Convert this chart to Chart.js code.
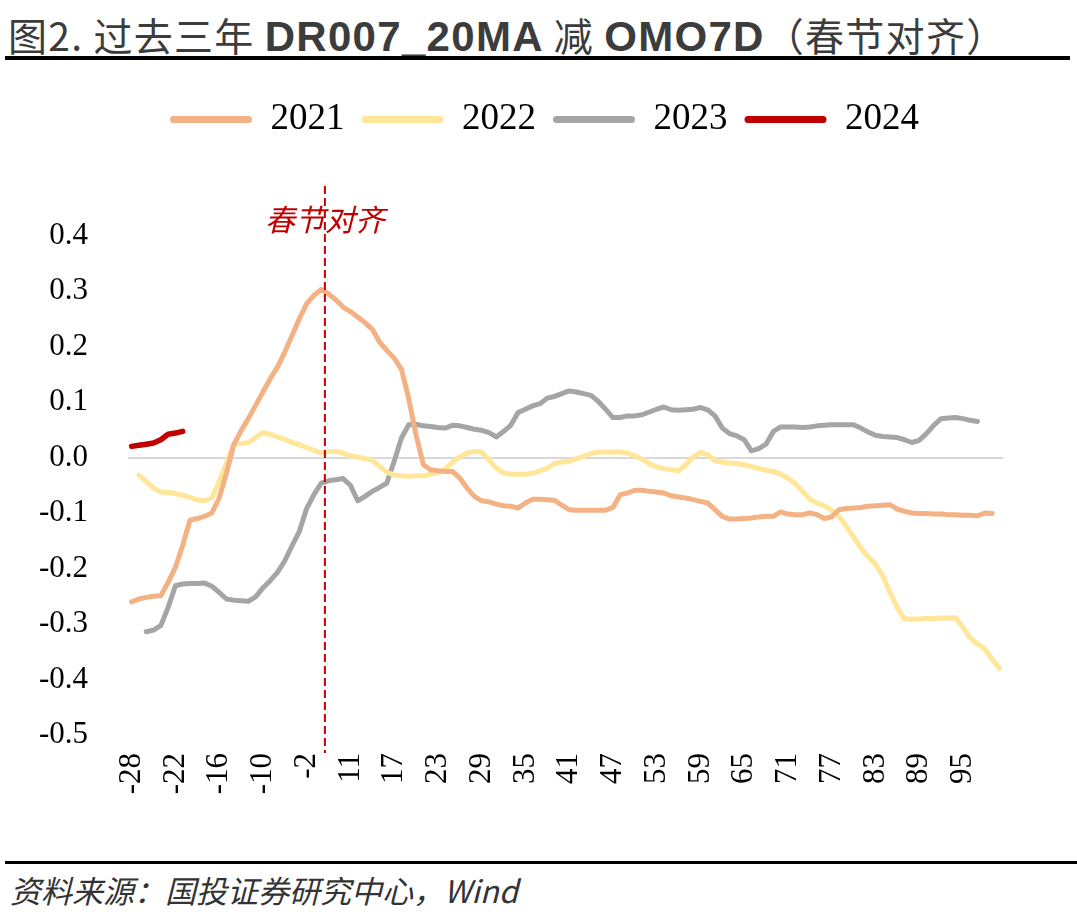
<!DOCTYPE html>
<html>
<head>
<meta charset="utf-8">
<script src="https://cdn.jsdelivr.net/npm/chart.js@4.4.1/dist/chart.umd.min.js"></script>
<style>
  body { margin: 0; background: #fff; }
  #page { position: relative; width: 1077px; height: 914px; overflow: hidden; background: #fff; }
  #title { position: absolute; left: 8px; top: 6px; font-size: 39px; color: #3c3c3c; white-space: nowrap;
           letter-spacing: 1.3px; font-family: "Noto Sans CJK SC", sans-serif; }
  #title b { font-family: "Liberation Sans", Arial, sans-serif; font-weight: 700; font-size: 42px; }
  .rule { position: absolute; background: #000; }
  #box { position: absolute; left: 0; top: 62px; width: 1077px; height: 800px; }
  #source { position: absolute; left: 10px; top: 867px; font-size: 31px; color: #333; font-style: italic;
            font-family: "Noto Sans CJK SC", sans-serif; white-space: nowrap; }
</style>
</head>
<body>
<div id="page">
  <div id="title">图2. 过去三年 <b>DR007_20MA</b> 减 <b>OMO7D</b>（春节对齐）</div>
  <div class="rule" style="left:5px;top:56px;width:1065px;height:4px;"></div>
  <div id="box"><canvas id="myChart"></canvas></div>
  <div class="rule" style="left:5px;top:861px;width:1072px;height:3px;"></div>
  <div id="source">资料来源：国投证券研究中心，Wind</div>
</div>
<script>
// days relative to Spring Festival (holiday days have no data)
const days = [-28,-27,-26,-25,-24,-23,-22,-21,-20,-19,-18,-17,-16,-15,-14,-13,-12,-11,-10,
  -9,-8,-6,-5,-3,-2,-1,0,8,9,10,11,
  12,13,14,15,16,17,18,19,20,21,22,23,24,25,26,27,28,29,30,31,32,33,34,35,36,37,38,39,40,
  41,42,43,44,45,46,47,48,49,50,51,52,53,54,55,56,57,58,59,60,61,62,63,64,65,66,67,68,69,70,
  71,72,73,74,75,76,77,78,79,80,81,82,83,84,85,86,87,88,89,90,91,92,93,94,95,96,97,98,99,100];

const v2021 = [-0.26,-0.255,-0.252,-0.25,-0.249,-0.225,-0.198,-0.158,-0.113,-0.11,
  -0.106,-0.1,-0.073,-0.028,0.023,0.048,0.07,0.094,0.118,0.142,
  0.163,0.19,0.22,0.25,0.277,0.292,0.303,0.295,0.284,0.271,
  0.263,0.253,0.243,0.231,0.208,0.193,0.179,0.159,0.106,0.041,
  -0.013,-0.022,-0.024,-0.025,-0.025,-0.037,-0.055,-0.07,-0.078,-0.08,
  -0.084,-0.087,-0.088,-0.091,-0.082,-0.075,-0.075,-0.076,-0.077,-0.086,
  -0.094,-0.095,-0.095,-0.095,-0.095,-0.095,-0.09,-0.067,-0.064,-0.059,
  -0.059,-0.061,-0.062,-0.064,-0.069,-0.071,-0.073,-0.076,-0.079,-0.082,
  -0.094,-0.106,-0.111,-0.111,-0.11,-0.109,-0.107,-0.106,-0.106,-0.098,
  -0.102,-0.103,-0.103,-0.1,-0.103,-0.11,-0.107,-0.094,-0.092,-0.091,
  -0.09,-0.088,-0.087,-0.086,-0.085,-0.093,-0.097,-0.1,-0.101,-0.101,
  -0.102,-0.102,-0.103,-0.103,-0.104,-0.104,-0.105,-0.1,-0.101];

const v2022 = [null,-0.032,-0.043,-0.055,-0.062,-0.063,-0.065,-0.068,-0.072,-0.076,
  -0.078,-0.073,-0.043,-0.01,0.024,0.025,0.027,0.036,0.045,0.042,
  0.037,0.033,0.027,0.023,0.018,0.013,0.008,0.011,0.011,0.008,
  0.003,0.001,-0.002,-0.005,-0.016,-0.026,-0.032,-0.033,-0.034,-0.033,
  -0.033,-0.03,-0.028,-0.021,-0.008,0.001,0.008,0.011,0.01,-0.004,
  -0.019,-0.028,-0.03,-0.03,-0.03,-0.028,-0.024,-0.019,-0.011,-0.008,
  -0.007,-0.002,0.002,0.007,0.01,0.01,0.01,0.01,0.008,0.003,
  -0.003,-0.011,-0.017,-0.02,-0.022,-0.024,-0.013,0.001,0.009,0.005,
  -0.006,-0.008,-0.01,-0.011,-0.013,-0.016,-0.02,-0.023,-0.025,-0.03,
  -0.037,-0.047,-0.061,-0.075,-0.082,-0.087,-0.095,-0.106,-0.124,-0.143,
  -0.163,-0.179,-0.192,-0.213,-0.243,-0.271,-0.291,-0.291,-0.291,-0.29,
  -0.29,-0.289,-0.289,-0.289,-0.306,-0.325,-0.336,-0.345,-0.363,-0.38];

const v2023 = [null,null,-0.314,-0.311,-0.303,-0.27,-0.231,-0.228,-0.227,-0.227,
  -0.226,-0.232,-0.243,-0.255,-0.257,-0.258,-0.259,-0.251,-0.235,-0.222,
  -0.207,-0.186,-0.159,-0.133,-0.092,-0.067,-0.046,-0.042,-0.04,-0.038,
  -0.05,-0.078,-0.07,-0.061,-0.054,-0.046,-0.007,0.035,0.059,0.06,
  0.057,0.056,0.054,0.053,0.058,0.057,0.054,0.051,0.049,0.045,
  0.037,0.047,0.058,0.081,0.087,0.093,0.097,0.107,0.11,0.115,
  0.12,0.118,0.115,0.112,0.101,0.087,0.072,0.072,0.075,0.075,
  0.077,0.082,0.087,0.091,0.086,0.085,0.086,0.087,0.09,0.086,
  0.075,0.053,0.043,0.039,0.032,0.012,0.016,0.024,0.047,0.055,
  0.055,0.055,0.054,0.055,0.057,0.058,0.059,0.059,0.059,0.059,
  0.053,0.046,0.04,0.038,0.037,0.036,0.032,0.027,0.031,0.043,
  0.058,0.07,0.071,0.072,0.07,0.067,0.065];

const v2024 = [0.02,0.022,0.024,0.026,0.032,0.042,0.044,0.047];

const seriesNames = ['2021', '2022', '2023', '2024'];
const seriesColors = ['#F4B183', '#FFE699', '#A5A5A5', '#C00000'];
const seriesValues = [v2021, v2022, v2023, v2024];

const yTicks = { min: -0.5, max: 0.5, step: 0.1 };

// extra room between the legend and the plot
const legendGap = {
    id: 'legendGap',
    beforeLayout(chart) {
        const lg = chart.legend;
        if (!lg || lg._gapDone) return;
        const fit = lg.fit;
        lg.fit = function () {
            fit.call(this);
            this.height += 32;
        };
        lg._gapDone = true;
    }
};

// dashed red line + label at the Spring Festival
const springLine = {
    id: 'springLine',
    afterDatasetsDraw(chart) {
        const {ctx, chartArea, scales} = chart;
        const x = scales.x, y = scales.y;
        const i = days.indexOf(0);
        const px = (x.getPixelForValue(i) + x.getPixelForValue(i + 1)) / 2;
        ctx.save();
        ctx.strokeStyle = '#C00000';
        ctx.lineWidth = 2;
        ctx.setLineDash([8, 4]);
        ctx.beginPath();
        ctx.moveTo(px, chartArea.top + 6);
        ctx.lineTo(px, chartArea.bottom + 18);
        ctx.stroke();
        ctx.setLineDash([]);
        ctx.fillStyle = '#C00000';
        ctx.font = 'italic 30px "Noto Sans CJK SC"';
        ctx.textAlign = 'center';
        ctx.textBaseline = 'middle';
        ctx.fillText('春节对齐', px, y.getPixelForValue(0.428));
        ctx.restore();
    }
};

const datasets = seriesNames.map((name, k) => ({
    label: name,
    data: seriesValues[k],
    borderColor: seriesColors[k],
    backgroundColor: seriesColors[k],
    borderWidth: k === 3 ? 5.5 : 5,
    pointRadius: 0,
    tension: 0,
    borderCapStyle: 'round',
    borderJoinStyle: 'round'
}));

new Chart(document.getElementById('myChart').getContext('2d'), {
    type: 'line',
    data: { labels: days, datasets },
    options: {
        responsive: true,
        maintainAspectRatio: false,
        animation: false,
        layout: { padding: { left: 12, right: 0, top: 22, bottom: 0 } },
        plugins: {
            tooltip: { enabled: false },
            legend: {
                display: true,
                position: 'top',
                labels: {
                    boxWidth: 82,
                    boxHeight: 7,
                    useBorderRadius: true,
                    borderRadius: 3.5,
                    padding: 17,
                    color: '#000',
                    font: { family: '"Liberation Serif", serif', size: 37 },
                    generateLabels(chart) {
                        return Chart.defaults.plugins.legend.labels.generateLabels(chart)
                            .map(l => Object.assign(l, { lineWidth: 0 }));
                    }
                }
            }
        },
        scales: {
            x: {
                type: 'category',
                offset: true,
                grid: { display: false, drawTicks: false },
                border: { display: false },
                afterFit(s) { s.height = 127; },
                ticks: {
                    autoSkip: false,
                    minRotation: 90,
                    maxRotation: 90,
                    padding: 18,
                    color: '#000',
                    font: { family: '"Liberation Serif", serif', size: 31 },
                    callback(value, index) {
                        return index % 6 === 0 ? String(days[index]) : '';
                    }
                }
            },
            y: {
                min: yTicks.min,
                max: yTicks.max,
                border: { display: false },
                afterFit(s) { s.width = 116; },
                grid: {
                    drawTicks: false,
                    lineWidth: 2,
                    color: c => (Math.abs(c.tick.value) < 1e-9 ? '#D9D9D9' : 'rgba(0,0,0,0)')
                },
                ticks: {
                    stepSize: yTicks.step,
                    padding: 40,
                    color: '#000',
                    font: { family: '"Liberation Serif", serif', size: 31 },
                    callback(v) {
                        if (Math.abs(v - yTicks.max) < 1e-9) return '';
                        if (Math.abs(v) < 1e-9) return '0.0';
                        return v.toFixed(1);
                    }
                }
            },
            // empty right-hand axis, only to keep the plot clear of the right edge
            yRight: {
                position: 'right',
                display: true,
                grid: { display: false, drawTicks: false },
                border: { display: false },
                ticks: { display: false },
                afterFit(s) { s.width = 74; }
            }
        }
    },
    plugins: [legendGap, springLine]
});
</script>
</body>
</html>
